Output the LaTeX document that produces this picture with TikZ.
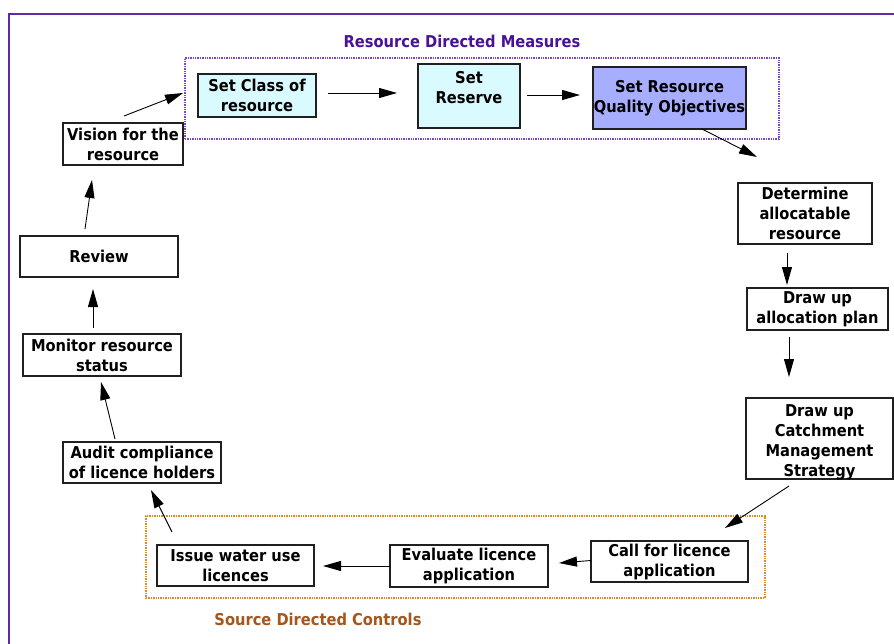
\documentclass[tikz,border=0pt]{standalone}
\usepackage{fontspec}
\setmainfont{DejaVu Sans Condensed}
\usetikzlibrary{arrows.meta}
\definecolor{framepurple}{HTML}{5B2CA6}
\definecolor{rdmpurple}{HTML}{7A45CC}
\definecolor{titlepurple}{HTML}{4A1298}
\definecolor{sdcorange}{HTML}{E08A22}
\definecolor{titlebrown}{HTML}{A4561C}
\definecolor{lightcyan}{HTML}{D9FAFF}
\definecolor{periwinkle}{HTML}{A7AEFF}
\definecolor{boxline}{HTML}{202020}
\begin{document}
\begin{tikzpicture}[x=1pt,y=-1pt,
  txtfont/.style={font=\bfseries\fontsize{16.3}{20}\selectfont},
  stepbox/.style={draw=boxline, line width=1.5pt, fill=white, inner sep=0pt,
                  align=center, txtfont},
  arr/.style={-{Triangle[length=18pt,width=10pt]}, line width=0.9pt, black},
  groupbox/.style={line width=1.3pt, dash pattern=on 1.4pt off 1pt, inner sep=0pt},
  grouptitle/.style={txtfont, inner sep=0pt}]

\useasboundingbox (0,0) rectangle (894,643);
\clip (0,0) rectangle (894,643);
\fill[white] (0,0) rectangle (894,643);

% outer frame (runs off the right and bottom edges)
\draw[framepurple, line width=1.6pt] (9,660) -- (9,14) -- (910,14);

% group frames
\node[groupbox, draw=rdmpurple, minimum width=594pt, minimum height=81pt] (rdm) at (482,98.5) {};
\node[groupbox, draw=sdcorange, minimum width=619pt, minimum height=82pt] (sdc) at (455.5,557) {};
\node[grouptitle, text=titlepurple] (rdmtitle) at (462,41) {Resource Directed Measures};
\node[grouptitle, text=titlebrown] (sdctitle) at (318,619) {Source Directed Controls};

% steps
\node[stepbox, fill=lightcyan, minimum width=118pt, minimum height=43pt] (class) at (257,95.5) {Set Class of\\resource};
\node[stepbox, fill=lightcyan, minimum width=102pt, minimum height=64pt] (reserve) at (469,96) {};
\node[txtfont, inner sep=0pt, align=center] (reservetext) at (469,88) {Set\\Reserve};
\node[stepbox, fill=periwinkle, minimum width=153pt, minimum height=62pt] (rqo) at (669.5,98) {Set Resource\\Quality Objectives};
\node[stepbox, minimum width=134pt, minimum height=61pt] (determine) at (805,213.5) {Determine\\allocatable\\resource};
\node[stepbox, minimum width=141pt, minimum height=42pt] (alloc) at (817.5,309) {Draw up\\allocation plan};
\node[stepbox, minimum width=147pt, minimum height=81pt] (strategy) at (819.5,438.5) {};
\node[txtfont, inner sep=0pt, align=center] (strategytext) at (819.5,442) {Draw up\\Catchment\\Management\\Strategy};
\node[stepbox, minimum width=157pt, minimum height=41pt] (call) at (669.5,561.5) {Call for licence\\application};
\node[stepbox, minimum width=158pt, minimum height=42pt] (evaluate) at (469,566) {Evaluate licence\\application};
\node[stepbox, minimum width=157pt, minimum height=41pt] (issue) at (235.5,565.5) {Issue water use\\licences};
\node[stepbox, minimum width=158pt, minimum height=41pt] (audit) at (142,462.5) {Audit compliance\\of licence holders};
\node[stepbox, minimum width=158pt, minimum height=42pt] (monitor) at (102,355) {Monitor resource\\status};
\node[stepbox, minimum width=158pt, minimum height=41pt] (review) at (99,256.5) {Review};
\node[stepbox, minimum width=120pt, minimum height=42pt] (vision) at (123,144) {Vision for the\\resource};

% connectors
\draw[arr] ([shift={(1,-28)}]vision.center) -- ([shift={(-74,-2.5)}]class.center);
\draw[arr] ([shift={(71,-2.5)}]class.center) -- ([shift={(-72,-3)}]reserve.center);
\draw[arr] ([shift={(58,-1)}]reserve.center) -- ([shift={(-89.5,-3)}]rqo.center);
\draw[arr] ([shift={(32.5,31)}]rqo.center) -- ([shift={(-48,-56.5)}]determine.center);
\draw[arr] ([shift={(-18,39.5)}]determine.center) -- ([shift={(-30.5,-24)}]alloc.center);
\draw[arr] ([shift={(-28.5,28)}]alloc.center) -- ([shift={(-30.5,-61.5)}]strategy.center);
\draw[arr] ([shift={(-30.5,47.5)}]strategy.center) -- ([shift={(55.5,-33.5)}]call.center);
\draw[arr] ([shift={(-78.5,-1)}]call.center) -- ([shift={(90,-3)}]evaluate.center);
\draw[arr] ([shift={(-79,0)}]evaluate.center) -- ([shift={(87.5,0.5)}]issue.center);
\draw[arr] ([shift={(-63.5,-33.5)}]issue.center) -- ([shift={(9,27.5)}]audit.center);
\draw[arr] ([shift={(-27,-23.5)}]audit.center) -- ([shift={(-1,27)}]monitor.center);
\draw[arr] ([shift={(-9,-27)}]monitor.center) -- ([shift={(-6,32.5)}]review.center);
\draw[arr] ([shift={(-14,-27.5)}]review.center) -- ([shift={(-31,36)}]vision.center);
\end{tikzpicture}
\end{document}
